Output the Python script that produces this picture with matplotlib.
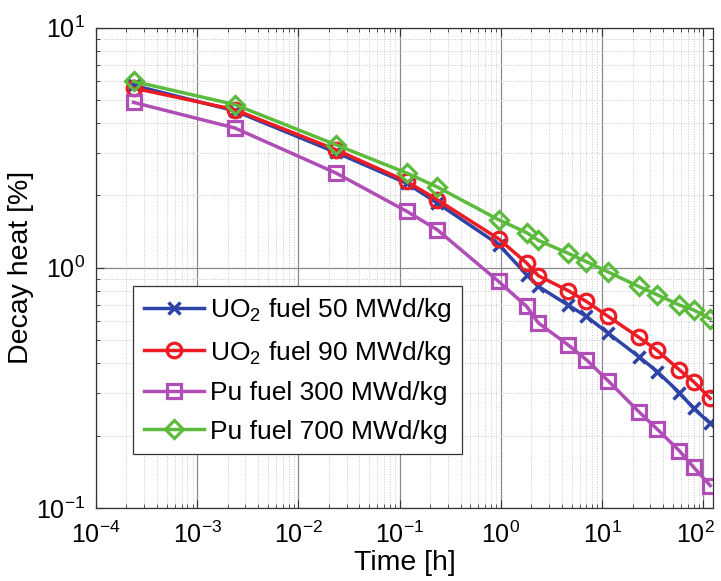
import numpy as np
import matplotlib
matplotlib.use('Agg')
import matplotlib.pyplot as plt
from matplotlib.ticker import LogLocator, NullFormatter, LogFormatterSciNotation
from matplotlib.transforms import ScaledTranslation

plt.rcParams['font.family'] = ['Liberation Sans', 'DejaVu Sans']
plt.rcParams['mathtext.fontset'] = 'custom'
plt.rcParams['mathtext.rm'] = 'Liberation Sans'
plt.rcParams['mathtext.default'] = 'regular'

# time after shutdown [h]
time_h = [2.35e-4, 2.35e-3, 2.35e-2, 0.117, 0.235, 0.95, 1.8, 2.35,
          4.6, 7.0, 11.5, 23, 35, 58, 80, 117]

# decay heat [% of nominal power]
uo2_50 = [5.75, 4.5, 3.02, 2.25, 1.86, 1.25, 0.935, 0.836,
          0.70, 0.627, 0.534, 0.427, 0.37, 0.302, 0.26, 0.225]
uo2_90 = [5.6, 4.55, 3.1, 2.29, 1.92, 1.32, 1.046, 0.926,
          0.804, 0.724, 0.627, 0.514, 0.453, 0.376, 0.336, 0.286]
pu_300 = [4.88, 3.82, 2.48, 1.72, 1.44, 0.877, 0.69, 0.589,
          0.478, 0.414, 0.338, 0.252, 0.213, 0.173, 0.148, 0.124]
pu_700 = [5.97, 4.78, 3.25, 2.48, 2.17, 1.585, 1.40, 1.30,
          1.15, 1.06, 0.96, 0.836, 0.772, 0.70, 0.668, 0.613]

labels = ['UO$_2$ fuel 50 MWd/kg', 'UO$_2$ fuel 90 MWd/kg',
          'Pu fuel 300 MWd/kg', 'Pu fuel 700 MWd/kg']

x_decades = [1e-4, 1e-3, 1e-2, 1e-1, 1e0, 1e1, 1e2]
y_decades = [1e-1, 1e0, 1e1]

fig = plt.figure(figsize=(7.21, 5.81), dpi=100)
ax = fig.add_axes([0.1331, 0.1256, 0.856, 0.827])

lw = 2.5
ax.plot(time_h, uo2_50, '-x', color='#2D44A6', lw=lw, ms=9, mew=2.5, label=labels[0])
ax.plot(time_h, uo2_90, '-o', color='#EC1C24', lw=lw, ms=10.5, mew=2.3, mfc='none', label=labels[1])
ax.plot(time_h, pu_300, '-s', color='#B04DB6', lw=lw, ms=9.5, mew=2.3, mfc='none', label=labels[2])
ax.plot(time_h, pu_700, '-D', color='#5CBB3C', lw=lw, ms=9.5, mew=2.3, mfc='none', label=labels[3])

ax.set_xscale('log')
ax.set_yscale('log')
ax.set_xlim(1e-4, 125)
ax.set_ylim(0.1, 10)

ax.set_xticks(x_decades)
ax.set_yticks(y_decades)
ax.xaxis.set_major_formatter(LogFormatterSciNotation())
ax.yaxis.set_major_formatter(LogFormatterSciNotation())
ax.xaxis.set_minor_locator(LogLocator(base=10, subs=np.arange(2, 10), numticks=10))
ax.yaxis.set_minor_locator(LogLocator(base=10, subs=np.arange(2, 10), numticks=10))
ax.xaxis.set_minor_formatter(NullFormatter())
ax.yaxis.set_minor_formatter(NullFormatter())

ax.grid(True, which='major', color='#8a8a8a', lw=0.9, ls='-')
ax.grid(True, which='minor', color='#c8c8c8', lw=0.7, ls=':')
ax.set_axisbelow(True)

ax.tick_params(which='both', direction='in', top=True, right=True, color='#333333')
ax.tick_params(which='major', length=6, labelsize=18)
ax.tick_params(axis='x', which='major', pad=10)
ax.tick_params(axis='y', which='major', pad=8)
ax.tick_params(which='minor', length=3)
for s in ax.spines.values():
    s.set_color('#333333')
    s.set_linewidth(0.9)

ax.set_xlabel('Time [h]', fontsize=20.5, labelpad=1)
ax.set_ylabel('Decay heat [%]', fontsize=20.5, labelpad=1)

leg = ax.legend(loc='lower left', bbox_to_anchor=(0.06, 0.112), borderaxespad=0,
                fontsize=19, handlelength=2.3, handletextpad=0.2,
                labelspacing=0.55, borderpad=0.4, fancybox=False,
                framealpha=1, edgecolor='#333333')
leg.get_frame().set_linewidth(0.9)

# nudge the 10^2 label left so it stays inside the figure
fig.canvas.draw()
for tick in ax.xaxis.get_major_ticks():
    if np.isclose(tick.get_loc(), 100):
        lbl = tick.label1
        lbl.set_transform(lbl.get_transform() + ScaledTranslation(-6 / 72, 0, fig.dpi_scale_trans))

fig.savefig('out.png', dpi=100)
